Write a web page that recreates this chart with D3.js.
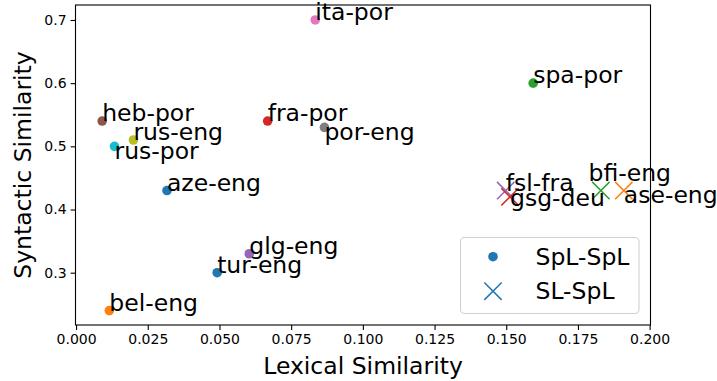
<!DOCTYPE html>
<meta charset="utf-8">
<style>
body {
  margin: 0;
  background: white;
}
text {
  font-family: "DejaVu Sans", sans-serif;
}
</style>
<body>
<svg width="717" height="381" id="chart"></svg>

<script src="https://d3js.org/d3.v7.min.js"></script>
<script>

// language pairs and their similarity scores
var pairs     = ["aze-eng", "bel-eng", "spa-por", "fra-por", "glg-eng", "heb-por", "ita-por", "por-eng", "rus-eng", "rus-por", "tur-eng",
                 "fsl-fra", "gsg-deu", "bfi-eng", "ase-eng"];
var lexical   = [0.0317, 0.0116, 0.1594, 0.0668, 0.0604, 0.0091, 0.0834, 0.0866, 0.0200, 0.0134, 0.0492,
                 0.1498, 0.1513, 0.1830, 0.1910];
var syntactic = [0.43, 0.24, 0.60, 0.54, 0.33, 0.54, 0.70, 0.53, 0.51, 0.50, 0.30,
                 0.43, 0.42, 0.43, 0.43];
var kinds     = ["SpL-SpL", "SpL-SpL", "SpL-SpL", "SpL-SpL", "SpL-SpL", "SpL-SpL", "SpL-SpL", "SpL-SpL", "SpL-SpL", "SpL-SpL", "SpL-SpL",
                 "SL-SpL", "SL-SpL", "SL-SpL", "SL-SpL"];
var legendKinds = ["SpL-SpL", "SL-SpL"];
var xTicks = [0.000, 0.025, 0.050, 0.075, 0.100, 0.125, 0.150, 0.175, 0.200];
var yTicks = [0.3, 0.4, 0.5, 0.6, 0.7];

// where a label was moved away from its point (data units)
var labelShift = {
  "rus-por": [0, -0.02],
  "por-eng": [0, -0.02],
  "gsg-deu": [0, -0.015],
  "ase-eng": [0, -0.02],
  "bfi-eng": [-0.0043, 0.015]
};

var colors = ["#1f77b4", "#ff7f0e", "#2ca02c", "#d62728", "#9467bd", "#8c564b", "#e377c2", "#7f7f7f", "#bcbd22", "#17becf", "#1f77b4",
              "#9467bd", "#d62728", "#2ca02c", "#ff7f0e"];

var fontBig = "23.5px";

var margin = {left: 75.5, right: 650.5, top: 5, bottom: 325};

var x = d3.scaleLinear()
    .domain([-0.0002, 0.2003])
    .range([margin.left, margin.right]);

var y = d3.scaleLinear()
    .domain([0.2172, 0.7237])
    .range([margin.bottom, margin.top]);

var svg = d3.select("#chart");

var xAxis = d3.axisBottom(x)
    .tickValues(xTicks)
    .tickFormat(d3.format(".3f"))
    .tickSizeOuter(0)
    .tickSize(4.9)
    .tickPadding(4);

var yAxis = d3.axisLeft(y)
    .tickValues(yTicks)
    .tickFormat(d3.format(".1f"))
    .tickSizeOuter(0)
    .tickSize(4.9)
    .tickPadding(4);

var gx = svg.append("g")
    .attr("transform", "translate(0," + margin.bottom + ")")
    .call(xAxis);

var gy = svg.append("g")
    .attr("transform", "translate(" + margin.left + ",0)")
    .call(yAxis);

[gx, gy].forEach(function(g) {
  g.select(".domain").remove();
  g.selectAll(".tick line").attr("stroke", "black").attr("stroke-width", 1.1);
  g.selectAll(".tick text")
    .attr("fill", "black")
    .style("font-family", "DejaVu Sans")
    .style("font-size", "14px");
});

// frame
svg.append("rect")
    .attr("x", margin.left)
    .attr("y", margin.top)
    .attr("width", margin.right - margin.left)
    .attr("height", margin.bottom - margin.top)
    .attr("fill", "none")
    .attr("stroke", "black")
    .attr("stroke-width", 1.1);

var rows = pairs.map(function(p, i) {
  return {name: p, lex: lexical[i], syn: syntactic[i], kind: kinds[i], color: colors[i]};
});

var dots = rows.filter(function(d) { return d.kind === "SpL-SpL"; });
var crosses = rows.filter(function(d) { return d.kind === "SL-SpL"; });

svg.selectAll(".dot")
    .data(dots)
  .enter().append("circle")
    .attr("class", "dot")
    .attr("cx", function(d) { return x(d.lex); })
    .attr("cy", function(d) { return y(d.syn); })
    .attr("r", 4.8)
    .attr("fill", function(d) { return d.color; });

var h = 8.7;
function crossPath(cx, cy) {
  return "M" + (cx - h) + "," + (cy - h) + "L" + (cx + h) + "," + (cy + h) +
         "M" + (cx - h) + "," + (cy + h) + "L" + (cx + h) + "," + (cy - h);
}

svg.selectAll(".cross")
    .data(crosses)
  .enter().append("path")
    .attr("class", "cross")
    .attr("d", function(d) { return crossPath(x(d.lex), y(d.syn)); })
    .attr("fill", "none")
    .attr("stroke", function(d) { return d.color; })
    .attr("stroke-width", 1.5);

svg.selectAll(".label")
    .data(rows)
  .enter().append("text")
    .attr("class", "label")
    .attr("x", function(d) { var s = labelShift[d.name] || [0, 0]; return x(d.lex + s[0]); })
    .attr("y", function(d) { var s = labelShift[d.name] || [0, 0]; return y(d.syn + s[1]); })
    .attr("font-size", fontBig)
    .attr("fill", "black")
    .text(function(d) { return d.name; });

// axis titles
svg.append("text")
    .attr("x", (margin.left + margin.right) / 2)
    .attr("y", 373.5)
    .attr("text-anchor", "middle")
    .attr("font-size", fontBig)
    .text("Lexical Similarity");

svg.append("text")
    .attr("transform", "translate(30.5," + (margin.top + margin.bottom) / 2 + ") rotate(-90)")
    .attr("text-anchor", "middle")
    .attr("font-size", fontBig)
    .text("Syntactic Similarity");

// legend
var legend = svg.append("g");

legend.append("rect")
    .attr("x", 460.5)
    .attr("y", 237.5)
    .attr("width", 178.5)
    .attr("height", 76)
    .attr("rx", 4)
    .attr("fill", "white")
    .attr("fill-opacity", 0.8)
    .attr("stroke", "#d0d0d0")
    .attr("stroke-width", 1.1);

var items = legend.selectAll(".item")
    .data(legendKinds)
  .enter().append("g")
    .attr("class", "item")
    .attr("transform", function(d, i) { return "translate(0," + (i * 34.5) + ")"; });

items.filter(function(d) { return d === "SpL-SpL"; })
  .append("circle")
    .attr("cx", 493)
    .attr("cy", 256.7)
    .attr("r", 4.8)
    .attr("fill", "#1f77b4");

items.filter(function(d) { return d === "SL-SpL"; })
  .append("path")
    .attr("d", crossPath(493, 256.7))
    .attr("fill", "none")
    .attr("stroke", "#1f77b4")
    .attr("stroke-width", 1.5);

items.append("text")
    .attr("x", 535.5)
    .attr("y", 264.8)
    .attr("font-size", fontBig)
    .text(function(d) { return d; });

</script>
</body>
